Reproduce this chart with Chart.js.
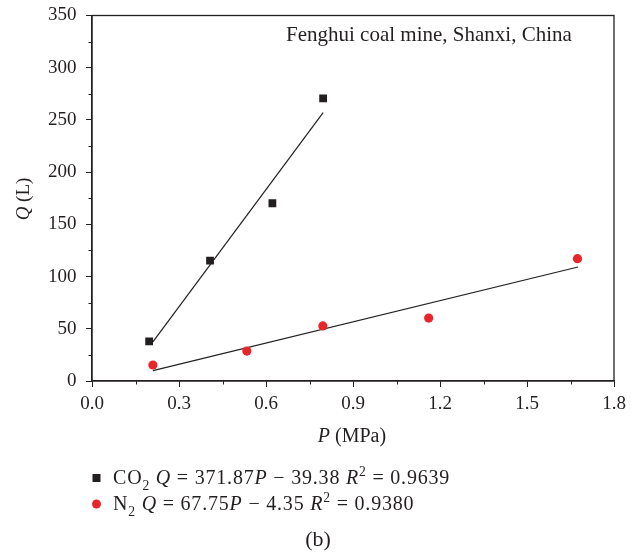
<!DOCTYPE html>
<html>
<head>
<meta charset="utf-8">
<script src="https://cdn.jsdelivr.net/npm/chart.js@4.4.1/dist/chart.umd.min.js"></script>
<style>
  html, body { margin: 0; padding: 0; background: #ffffff; }
  #wrap { width: 640px; height: 555px; position: relative; }
</style>
</head>
<body>
<div id="wrap"><canvas id="c" width="640" height="555"></canvas></div>
<script>
// ---- data ----
const co2P = [0.197, 0.407, 0.622, 0.797];
const co2Q = [38.0, 115.2, 170.2, 270.7];
const n2P = [0.21, 0.534, 0.796, 1.161, 1.674];
const n2Q = [15.3, 28.7, 52.7, 60.3, 117.1];
// fitted line end points (as drawn)
const co2FitP = [0.21, 0.797];
const co2FitQ = [37.5, 257.0];
const n2FitP = [0.21, 1.676];
const n2FitQ = [9.9, 109.2];
// ticks
const xTicks = [0.0, 0.3, 0.6, 0.9, 1.2, 1.5, 1.8];
const xMinor = [0.15, 0.45, 0.75, 1.05, 1.35, 1.65];
const yTicks = [0, 50, 100, 150, 200, 250, 300, 350];
const yMinor = [25, 75, 125, 175, 225, 275, 325];
// texts
const annotationText = 'Fenghui coal mine, Shanxi, China';
const xTitle = [{t: 'P', i: true}, {t: ' (MPa)'}];
const yTitle = [{t: 'Q', i: true}, {t: ' (L)'}];
const legendCO2 = [{t: 'CO'}, {t: '2', sub: true}, {t: ' '}, {t: 'Q', i: true}, {t: ' = 371.87'}, {t: 'P', i: true},
                   {t: ' \u2212 39.38 '}, {t: 'R', i: true}, {t: '2', sup: true}, {t: ' = 0.9639'}];
const legendN2 = [{t: 'N'}, {t: '2', sub: true}, {t: ' '}, {t: 'Q', i: true}, {t: ' = 67.75'}, {t: 'P', i: true},
                  {t: ' \u2212 4.35 '}, {t: 'R', i: true}, {t: '2', sup: true}, {t: ' = 0.9380'}];
const caption = '(b)';

const INK = '#231f20';
const RED = '#e8262a';
const FAMILY = '"Liberation Serif", "Times New Roman", serif';

function fontFor(seg, size) {
  const s = (seg.sub || seg.sup) ? size * 0.68 : size;
  return (seg.i ? 'italic ' : '') + s + 'px ' + FAMILY;
}
function richWidth(ctx, segs, size) {
  let w = 0;
  segs.forEach(s => { ctx.font = fontFor(s, size); w += ctx.measureText(s.t).width; });
  return w;
}
function drawRich(ctx, segs, x, y, size, align) {
  const w = richWidth(ctx, segs, size);
  let cx = align === 'center' ? x - w / 2 : x;
  ctx.textAlign = 'left';
  segs.forEach(s => {
    ctx.font = fontFor(s, size);
    let dy = 0;
    if (s.sub) dy = size * 0.28;
    if (s.sup) dy = -size * 0.38;
    ctx.fillText(s.t, cx, y + dy);
    cx += ctx.measureText(s.t).width;
  });
}

const extras = {
  id: 'extras',
  afterDraw(chart) {
    const ctx = chart.ctx;
    const a = chart.chartArea;
    const xs = chart.scales.x, ys = chart.scales.y;
    ctx.save();
    // frame (top & right)
    ctx.strokeStyle = INK;
    ctx.lineWidth = 1.3;
    ctx.strokeRect(a.left, a.top, a.right - a.left, a.bottom - a.top);
    // minor ticks
    ctx.lineWidth = 1;
    ctx.beginPath();
    xMinor.forEach(v => { const px = Math.round(xs.getPixelForValue(v)) + 0.5; ctx.moveTo(px, a.bottom); ctx.lineTo(px, a.bottom + 3.5); });
    yMinor.forEach(v => { const py = Math.round(ys.getPixelForValue(v)) + 0.5; ctx.moveTo(a.left, py); ctx.lineTo(a.left - 3.5, py); });
    ctx.stroke();
    // annotation
    ctx.fillStyle = INK;
    ctx.textBaseline = 'alphabetic';
    ctx.font = '21px ' + FAMILY;
    ctx.textAlign = 'left';
    ctx.fillText(annotationText, 286, 41);
    // axis titles
    drawRich(ctx, xTitle, 352, 442, 20, 'center');
    ctx.save();
    ctx.translate(29, 199);
    ctx.rotate(-Math.PI / 2);
    drawRich(ctx, yTitle, 0, 0, 19, 'center');
    ctx.restore();
    // legend
    ctx.fillStyle = INK;
    ctx.fillRect(92.5, 474, 8, 8);
    ctx.fillStyle = RED;
    ctx.beginPath(); ctx.arc(96.5, 504, 4.5, 0, Math.PI * 2); ctx.fill();
    ctx.fillStyle = INK;
    ctx.letterSpacing = '0.8px';
    drawRich(ctx, legendCO2, 113, 484, 20, 'left');
    drawRich(ctx, legendN2, 113, 510, 20, 'left');
    ctx.letterSpacing = '0px';
    ctx.font = '22px ' + FAMILY;
    ctx.textAlign = 'center';
    ctx.fillText(caption, 318, 546);
    ctx.restore();
  }
};

new Chart(document.getElementById('c'), {
  type: 'scatter',
  data: {
    datasets: [
      { label: 'CO2 fit', data: co2FitP.map((p, k) => ({x: p, y: co2FitQ[k]})), showLine: true,
        borderColor: INK, borderWidth: 1.2, pointRadius: 0, order: 2 },
      { label: 'N2 fit', data: n2FitP.map((p, k) => ({x: p, y: n2FitQ[k]})), showLine: true,
        borderColor: INK, borderWidth: 1.2, pointRadius: 0, order: 2 },
      { label: 'CO2', data: co2P.map((p, k) => ({x: p, y: co2Q[k]})), pointStyle: 'rect',
        pointRadius: 5.5, backgroundColor: INK, borderColor: INK, borderWidth: 0, order: 1 },
      { label: 'N2', data: n2P.map((p, k) => ({x: p, y: n2Q[k]})), pointStyle: 'circle',
        pointRadius: 4.6, backgroundColor: RED, borderColor: RED, borderWidth: 0, order: 1 }
    ]
  },
  options: {
    responsive: false,
    animation: false,
    devicePixelRatio: 1,
    layout: { padding: { left: 0, right: 26, top: 15.5, bottom: 0 } },
    plugins: { legend: { display: false }, tooltip: { enabled: false } },
    scales: {
      x: {
        type: 'linear', min: 0, max: 1.8,
        afterBuildTicks: s => { s.ticks = xTicks.map(v => ({value: v})); },
        afterFit: s => { s.height = 174; s.paddingLeft = 0; s.paddingRight = 0; },
        grid: { drawOnChartArea: false, drawTicks: true, tickLength: 6, color: INK, lineWidth: 1 },
        border: { display: true, color: INK, width: 1.3 },
        ticks: { color: INK, padding: 5.5, maxRotation: 0, autoSkip: false,
                 font: { family: FAMILY, size: 19 }, callback: v => Number(v).toFixed(1) }
      },
      y: {
        type: 'linear', min: 0, max: 350,
        afterBuildTicks: s => { s.ticks = yTicks.map(v => ({value: v})); },
        afterFit: s => { s.width = 92; s.paddingTop = 0; s.paddingBottom = 0; },
        grid: { drawOnChartArea: false, drawTicks: true, tickLength: 6, color: INK, lineWidth: 1 },
        border: { display: true, color: INK, width: 1.3 },
        ticks: { color: INK, padding: 9.5, autoSkip: false,
                 font: { family: FAMILY, size: 19 }, callback: v => String(v) }
      }
    }
  },
  plugins: [extras]
});
</script>
</body>
</html>
